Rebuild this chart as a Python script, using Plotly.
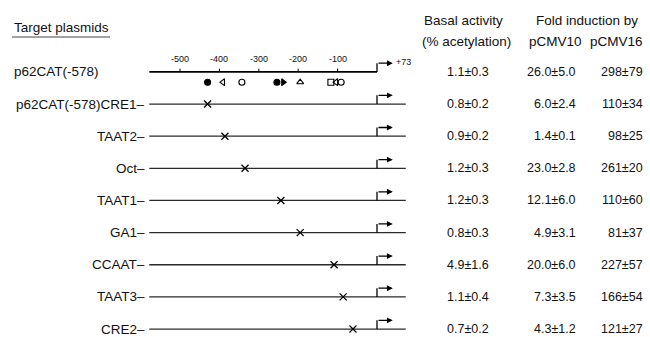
import plotly.graph_objects as go

# ---------------- data ----------------
constructs = ["p62CAT(-578)", "p62CAT(-578)CRE1–", "TAAT2–", "Oct–", "TAAT1–",
              "GA1–", "CCAAT–", "TAAT3–", "CRE2–"]
mutation_pos = [None, -430, -386, -335, -244, -195, -109, -86, -61]
basal = ["1.1±0.3", "0.8±0.2", "0.9±0.2", "1.2±0.3", "1.2±0.3",
         "0.8±0.3", "4.9±1.6", "1.1±0.4", "0.7±0.2"]
pcmv10 = ["26.0±5.0", "6.0±2.4", "1.4±0.1", "23.0±2.8", "12.1±6.0",
          "4.9±3.1", "20.0±6.0", "7.3±3.5", "4.3±1.2"]
pcmv16 = ["298±79", "110±34", "98±25", "261±20", "110±60",
          "81±37", "227±57", "166±54", "121±27"]
axis_ticks = [-500, -400, -300, -200, -100]
axis_tick_labels = ["-500", "-400", "-300", "-200", "-100"]
promoter_start = -578
promoter_end = 73
start_site = 0
site_pos = [-430, -391, -343, -254, -238, -195, -117, -104, -91]
site_symbol = ["circle", "triangle-left-open", "circle-open", "circle", "triangle-right",
               "triangle-up-open", "square-open", "triangle-left-open", "circle-open"]

FONT = "Liberation Sans, Arial, Helvetica, sans-serif"
INK = "#111111"

fig = go.Figure()

rows = list(range(len(constructs)))

# promoter lines
for i in rows:
    x_end = start_site if i == 0 else promoter_end
    fig.add_trace(go.Scatter(
        x=[promoter_start, x_end], y=[i, i], mode="lines",
        line=dict(color="#000000" if i == 0 else "#2a2a2a", width=1.8 if i == 0 else 1.3),
        hoverinfo="skip", showlegend=False))
    # bent arrow (transcription start)
    fig.add_trace(go.Scatter(
        x=[start_site, start_site], y=[i, i - 0.27], mode="lines",
        line=dict(color="#000000", width=1.3), hoverinfo="skip", showlegend=False))
    fig.add_annotation(x=start_site + 40, y=i - 0.27, ax=start_site, ay=i - 0.27,
                       xref="x", yref="y", axref="x", ayref="y", text="",
                       showarrow=True, arrowhead=2, arrowsize=0.9, arrowwidth=1.3,
                       arrowcolor="#000000", standoff=0, startstandoff=0)

# scale ticks on top line
tx, ty = [], []
for t in axis_ticks:
    tx += [t, t, None]
    ty += [0, -0.1, None]
fig.add_trace(go.Scatter(x=tx, y=ty, mode="lines", line=dict(color="#000", width=1),
                         hoverinfo="skip", showlegend=False))
for t, lab in zip(axis_ticks, axis_tick_labels):
    fig.add_annotation(x=t, y=-0.4, xref="x", yref="y", text=lab, showarrow=False,
                       font=dict(family=FONT, size=9, color=INK))
fig.add_annotation(x=start_site + 44, y=-0.3, xref="x", yref="y", text="+73", showarrow=False,
                   xanchor="left", font=dict(family=FONT, size=9, color=INK))

# binding site symbols
fig.add_trace(go.Scatter(
    x=site_pos, y=[0.32] * len(site_pos), mode="markers",
    marker=dict(symbol=site_symbol, size=6, color="#000000",
                line=dict(color="#000000", width=1.1)),
    hoverinfo="skip", showlegend=False))

# mutation marks
mx = [m for m in mutation_pos if m is not None]
my = [i for i, m in zip(rows, mutation_pos) if m is not None]
fig.add_trace(go.Scatter(
    x=mx, y=my, mode="markers",
    marker=dict(symbol="x-thin-open", size=7, color="#000",
                line=dict(color="#000000", width=1.3)),
    hoverinfo="skip", showlegend=False))

# labels and values
for i in rows:
    if i == 0:
        fig.add_annotation(x=12 / 650, y=i, xref="paper", yref="y", text=constructs[i],
                           xanchor="left", showarrow=False,
                           font=dict(family=FONT, size=13.5, color=INK))
    else:
        fig.add_annotation(x=147 / 650, y=i, xref="paper", yref="y", text=constructs[i],
                           xanchor="right", showarrow=False,
                           font=dict(family=FONT, size=13.5, color=INK))
    fig.add_annotation(x=468 / 650, y=i, xref="paper", yref="y", text=basal[i],
                       xanchor="center", showarrow=False,
                       font=dict(family=FONT, size=12.5, color=INK))
    fig.add_annotation(x=578 / 650, y=i, xref="paper", yref="y", text=pcmv10[i],
                       xanchor="right", showarrow=False,
                       font=dict(family=FONT, size=12.5, color=INK))
    fig.add_annotation(x=645 / 650, y=i, xref="paper", yref="y", text=pcmv16[i],
                       xanchor="right", showarrow=False,
                       font=dict(family=FONT, size=12.5, color=INK))

# headers
def header(text, px, py, anchor="center"):
    fig.add_annotation(x=px / 650, y=1 - py / 337, xref="paper", yref="paper", text=text,
                       xanchor=anchor, yanchor="middle", showarrow=False,
                       font=dict(family=FONT, size=13.5, color=INK))

header("Target plasmids", 12, 28, "left")
header("Basal activity", 464, 20)
header("(% acetylation)", 466, 42)
header("Fold induction by", 587, 20)
header("pCMV10", 555, 42)
header("pCMV16", 616, 42)

fig.add_shape(type="line", xref="paper", yref="paper", x0=12 / 650, x1=110 / 650,
              y0=1 - 37 / 337, y1=1 - 37 / 337, line=dict(color="#444", width=1))

fig.update_layout(
    width=650, height=337, margin=dict(l=0, r=0, t=0, b=0),
    paper_bgcolor="white", plot_bgcolor="white",
    xaxis=dict(range=[-957, 693], visible=False, fixedrange=True),
    yaxis=dict(range=[8.248, -2.237], visible=False, fixedrange=True),
    showlegend=False,
)

fig.write_html("out.html", config={"displayModeBar": False},
               post_script="document.body.style.margin='0';document.body.style.overflow='hidden';")
